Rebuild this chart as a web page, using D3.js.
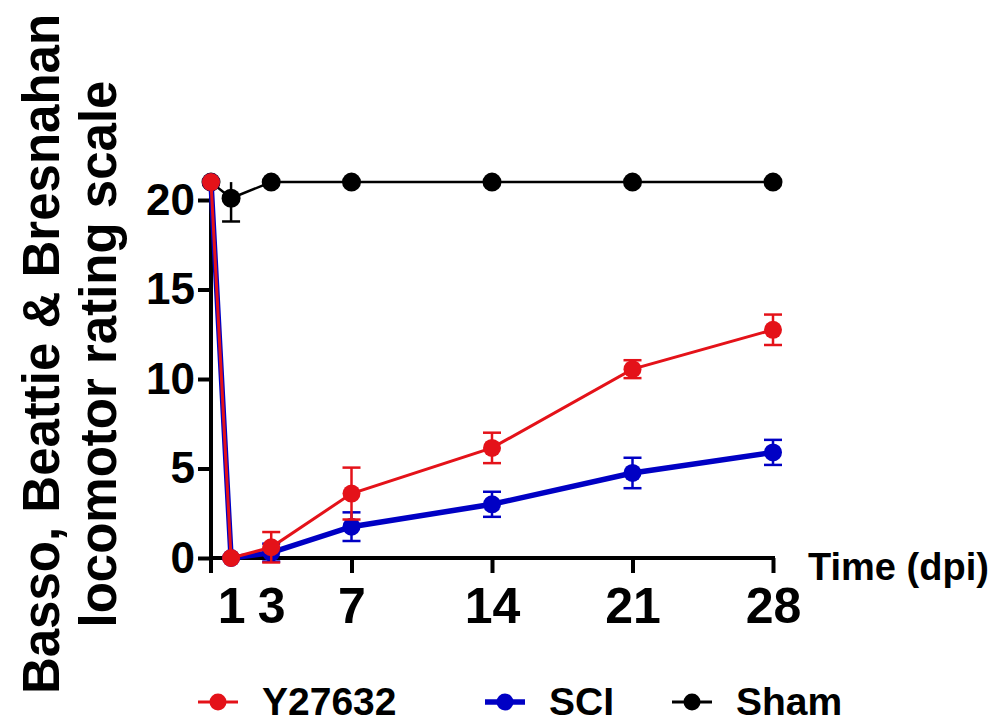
<!DOCTYPE html>
<html>
<head>
<meta charset="utf-8">
<script src="https://cdn.jsdelivr.net/npm/d3@7"></script>
<style>
  body { margin: 0; background: #fff; }
  text { font-family: "Liberation Sans", Arial, sans-serif; font-weight: bold; }
</style>
</head>
<body>
<svg id="chart"></svg>
<script>
const days = [0, 1, 3, 7, 14, 21, 28];
const xTickDays = [1, 3, 7, 14, 21, 28];
const yTicks = [0, 5, 10, 15, 20];

const y27632Mean = [21, 0, 0.6, 3.6, 6.15, 10.55, 12.75];
const y27632Sem = [0, 0, 0.85, 1.45, 0.85, 0.5, 0.85];
const sciMean = [21, 0, 0.3, 1.75, 3.0, 4.75, 5.9];
const sciSem = [0, 0, 0.5, 0.8, 0.7, 0.85, 0.7];
const shamMean = [21, 20.1, 21, 21, 21, 21, 21];
const shamSem = [0, 1.3, 0, 0, 0, 0, 0];

const width = 1005;
const height = 723;
const yMax = 21; // top of the y axis, error bars are clipped here

const xScale = d3.scaleLinear()
    .domain([0, 28])
    .range([211, 773]);

const yScale = d3.scaleLinear()
    .domain([0, 20])
    .range([558, 200]);

const svg = d3.select("#chart")
    .attr("width", width)
    .attr("height", height);

// y axis
const yAxis = svg.append("g")
    .attr("transform", `translate(${xScale(0)}, 0)`)
    .call(d3.axisLeft(yScale).tickValues(yTicks).tickSize(13).tickPadding(3));
yAxis.select(".domain").remove();
yAxis.selectAll(".tick line").attr("stroke", "#000").attr("stroke-width", 4);
yAxis.selectAll(".tick text")
    .attr("fill", "#000")
    .style("font-size", "44px");

svg.append("line")
    .attr("x1", xScale(0)).attr("x2", xScale(0))
    .attr("y1", yScale(yMax)).attr("y2", yScale(0) + 15)
    .attr("stroke", "#000").attr("stroke-width", 4);

// x axis
const xAxis = svg.append("g")
    .attr("transform", `translate(0, ${yScale(0)})`)
    .call(d3.axisBottom(xScale).tickValues(xTickDays).tickSize(15).tickPadding(14));
xAxis.select(".domain").remove();
xAxis.selectAll(".tick line")
    .attr("stroke", "#000").attr("stroke-width", 4)
    .attr("display", d => d < 7 ? "none" : null);
xAxis.selectAll(".tick text")
    .attr("fill", "#000")
    .style("font-size", "50px");

svg.append("line")
    .attr("x1", xScale(0)).attr("x2", xScale(28) + 2)
    .attr("y1", yScale(0)).attr("y2", yScale(0))
    .attr("stroke", "#000").attr("stroke-width", 4);

svg.append("text")
    .attr("x", 808)
    .attr("y", 580)
    .style("font-size", "38px")
    .text("Time (dpi)");

// y axis title
const yTitle = svg.append("text")
    .attr("transform", "translate(0, 354) rotate(-90)")
    .attr("text-anchor", "middle")
    .style("font-size", "51px");
yTitle.append("tspan").attr("x", 0).attr("y", 59).text("Basso, Beattie & Bresnahan");
yTitle.append("tspan").attr("x", 0).attr("y", 116).text("locomotor rating scale");

// series
const series = [
  { name: "Sham", mean: shamMean, sem: shamSem, color: "#000000", lw: 2.5, r: 9.5 },
  { name: "SCI", mean: sciMean, sem: sciSem, color: "#0000c4", lw: 5.5, r: 9 },
  { name: "Y27632", mean: y27632Mean, sem: y27632Sem, color: "#e41219", lw: 3, r: 9 }
];

const line = d3.line()
    .x(d => xScale(d.day))
    .y(d => yScale(d.mean));

series.forEach(function(s) {
  const pts = days.map((d, i) => ({ day: d, mean: s.mean[i], sem: s.sem[i] }));
  const g = svg.append("g");

  g.append("path")
      .datum(pts)
      .attr("fill", "none")
      .attr("stroke", s.color)
      .attr("stroke-width", s.lw)
      .attr("d", line);

  const eb = g.selectAll(".eb")
      .data(pts.filter(p => p.sem > 0))
      .enter().append("g");
  eb.append("line")
      .attr("x1", p => xScale(p.day)).attr("x2", p => xScale(p.day))
      .attr("y1", p => yScale(p.mean - p.sem))
      .attr("y2", p => yScale(Math.min(p.mean + p.sem, yMax)))
      .attr("stroke", s.color).attr("stroke-width", 2.5);
  [-1, 1].forEach(function(sign) {
    eb.filter(p => p.mean + sign * p.sem <= yMax)
      .append("line")
        .attr("x1", p => xScale(p.day) - 9).attr("x2", p => xScale(p.day) + 9)
        .attr("y1", p => yScale(p.mean + sign * p.sem)).attr("y2", p => yScale(p.mean + sign * p.sem))
        .attr("stroke", s.color).attr("stroke-width", 2.5);
  });

  g.selectAll("circle")
      .data(pts)
      .enter().append("circle")
      .attr("cx", p => xScale(p.day))
      .attr("cy", p => yScale(p.mean))
      .attr("r", s.r)
      .attr("fill", s.color);
});

// legend
const legendItems = [
  { name: "Y27632", color: "#e41219", lw: 3, x: 198 },
  { name: "SCI", color: "#0000c4", lw: 5.5, x: 485 },
  { name: "Sham", color: "#000000", lw: 3, x: 672 }
];
const legend = svg.append("g").attr("transform", "translate(0, 702)");
legendItems.forEach(function(it) {
  legend.append("line")
      .attr("x1", it.x).attr("x2", it.x + 40)
      .attr("stroke", it.color).attr("stroke-width", it.lw);
  legend.append("circle")
      .attr("cx", it.x + 20).attr("r", 8.5)
      .attr("fill", it.color);
  legend.append("text")
      .attr("x", it.x + 64)
      .attr("y", 13)
      .style("font-size", "39px")
      .text(it.name);
});
</script>
</body>
</html>
